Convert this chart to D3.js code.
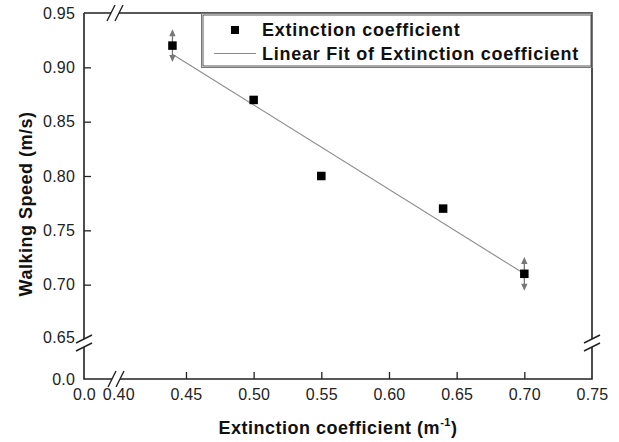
<!DOCTYPE html>
<html><head><meta charset="utf-8">
<script src="https://cdn.jsdelivr.net/npm/d3@7"></script>
<style>body{margin:0;background:#fff}svg{display:block}text{font-family:"Liberation Sans",Arial,sans-serif}</style>
</head><body>
<svg id="c" width="619" height="442"></svg>
<script>
const xValues = [0.44, 0.50, 0.55, 0.64, 0.70];
const yValues = [0.92, 0.87, 0.80, 0.77, 0.71];
const errValues = [0.015, 0, 0, 0, 0.0155];
const fitX = [0.44, 0.70];
const fitY = [0.912, 0.710];
const xTickLabels = [0.0, 0.40, 0.45, 0.50, 0.55, 0.60, 0.65, 0.70, 0.75];
const yTickLabels = [0.0, 0.65, 0.70, 0.75, 0.80, 0.85, 0.90, 0.95];
const legendLabels = ["Extinction coefficient", "Linear Fit of Extinction coefficient"];

const svg = d3.select("#c");
const L = 84, R = 592, T = 13, B = 379;
const x = d3.scaleLinear().domain([0, 0.40, 0.75]).range([L, 118.3, R]);
const y = d3.scaleLinear().domain([0, 0.65, 0.95]).range([B, 339, T]);
const axisColor = "#222";

// axes (ticks + labels)
const xAxis = d3.axisBottom(x).tickValues(xTickLabels)
  .tickFormat(d => d === 0 ? "0.0" : d3.format(".2f")(d)).tickSize(-7).tickPadding(10);
const gx = svg.append("g").attr("transform", `translate(0,${B})`).call(xAxis);
const yAxis = d3.axisLeft(y).tickValues(yTickLabels)
  .tickFormat(d => d === 0 ? "0.0" : d3.format(".2f")(d)).tickSize(-7).tickPadding(9);
const gy = svg.append("g").attr("transform", `translate(${L},0)`).call(yAxis);
[gx, gy].forEach(g => {
  g.select(".domain").remove();
  g.selectAll(".tick line").attr("stroke", axisColor).attr("stroke-width", 1.3);
  g.selectAll(".tick text").attr("fill", "#222").style("font-size", "16px").style("letter-spacing", "0.2px");
});
gx.selectAll(".tick").filter(d => d === 0 || d === 0.40 || d === 0.75).select("line").remove();
gy.selectAll(".tick").filter(d => d === 0 || d === 0.65 || d === 0.95).select("line").remove();
gy.selectAll(".tick").filter(d => d === 0.65).select("text").attr("dy", "0.2em");

// frame
const frame = svg.append("g").attr("stroke", axisColor).attr("stroke-width", 1.6).attr("fill", "none");
frame.append("path").attr("d", `M${L},${T}V${B}H${R}V${T}H${L}`);

// break marks
function breakMark(cx, cy, horizontal) {
  const g = svg.append("g");
  if (horizontal) {
    g.append("rect").attr("x", cx - 4).attr("y", cy - 3).attr("width", 8).attr("height", 6).attr("fill", "#fff");
    [-4, 4].forEach(o => g.append("line").attr("x1", cx + o - 4).attr("y1", cy + 8).attr("x2", cx + o + 4).attr("y2", cy - 8)
      .attr("stroke", axisColor).attr("stroke-width", 1.4));
  } else {
    g.append("rect").attr("x", cx - 3).attr("y", cy - 4).attr("width", 6).attr("height", 8).attr("fill", "#fff");
    [-4, 4].forEach(o => g.append("line").attr("x1", cx - 8).attr("y1", cy + o + 4).attr("x2", cx + 8).attr("y2", cy + o - 4)
      .attr("stroke", axisColor).attr("stroke-width", 1.4));
  }
}
breakMark(116, B, true);
breakMark(115, T, true);
breakMark(L, 343, false);
breakMark(R, 343, false);

// fit line
svg.append("line").attr("x1", x(fitX[0])).attr("y1", y(fitY[0])).attr("x2", x(fitX[1])).attr("y2", y(fitY[1]))
  .attr("stroke", "#8a8a8a").attr("stroke-width", 1.1);

// error bars with arrow heads
const pts = xValues.map((v, i) => ({x: v, y: yValues[i], e: errValues[i]}));
const eb = svg.append("g").attr("fill", "#777").attr("stroke", "#777");
pts.filter(d => d.e > 0).forEach(d => {
  const cx = x(d.x), top = y(d.y + d.e), bot = y(d.y - d.e);
  eb.append("line").attr("x1", cx).attr("x2", cx).attr("y1", top + 3).attr("y2", bot - 3).attr("stroke-width", 1.3);
  eb.append("path").attr("stroke", "none").attr("d", `M${cx},${top}L${cx - 3.2},${top + 7}L${cx + 3.2},${top + 7}Z`);
  eb.append("path").attr("stroke", "none").attr("d", `M${cx},${bot}L${cx - 3.2},${bot - 7}L${cx + 3.2},${bot - 7}Z`);
});

// markers
svg.append("g").selectAll("rect").data(pts).join("rect")
  .attr("x", d => x(d.x) - 4.25).attr("y", d => y(d.y) - 4.25).attr("width", 8.5).attr("height", 8.5).attr("fill", "#000");

// legend
const lg = svg.append("g");
lg.append("rect").attr("x", 203).attr("y", 15).attr("width", 388).attr("height", 51).attr("fill", "#fff")
  .attr("stroke", "#555").attr("stroke-width", 1);
lg.append("rect").attr("x", 201.5).attr("y", 13.5).attr("width", 391).attr("height", 54).attr("fill", "none")
  .attr("stroke", "#777").attr("stroke-width", 1);
lg.append("rect").attr("x", 231).attr("y", 26).attr("width", 8).attr("height", 8).attr("fill", "#000");
lg.append("line").attr("x1", 214).attr("x2", 256).attr("y1", 53.5).attr("y2", 53.5).attr("stroke", "#8a8a8a").attr("stroke-width", 1.1);
lg.selectAll("text").data(legendLabels).join("text")
  .attr("x", 262).attr("y", (d, i) => 36 + i * 24).attr("font-weight", "bold").style("font-size", "18px")
  .style("letter-spacing", "0.75px").attr("fill", "#111")
  .text(d => d);

// axis titles
const xt = svg.append("text").attr("x", 338).attr("y", 434).attr("text-anchor", "middle")
  .attr("font-weight", "bold").style("font-size", "18px").style("letter-spacing", "0.5px").attr("fill", "#111");
xt.append("tspan").text("Extinction coefficient (m");
xt.append("tspan").attr("dy", -8).style("font-size", "11px").text("-1");
xt.append("tspan").attr("dy", 8).text(")");
svg.append("text").attr("transform", "translate(32,204) rotate(-90)").attr("text-anchor", "middle")
  .attr("font-weight", "bold").style("font-size", "18px").style("letter-spacing", "0.5px").attr("fill", "#111").text("Walking Speed (m/s)");
</script>
</body></html>
